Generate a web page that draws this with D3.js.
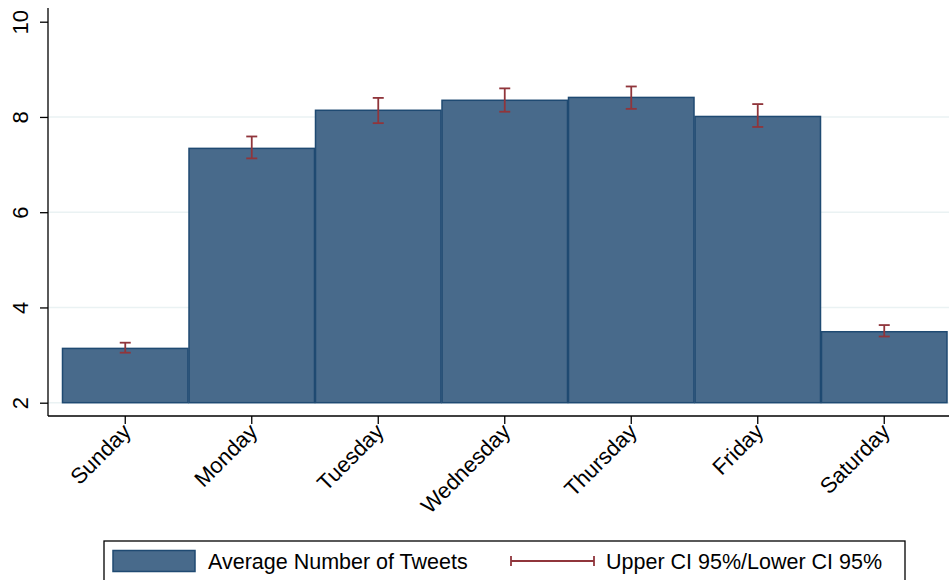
<!DOCTYPE html>
<html>
<head>
<meta charset="utf-8">
<script src="https://cdn.jsdelivr.net/npm/d3@7"></script>
<style>
  body { margin: 0; background: #fff; }
  text { font-family: "Liberation Sans", Arial, sans-serif; fill: #000; }
</style>
</head>
<body>
<div id="chart"></div>
<script>
// data
var days = ["Sunday", "Monday", "Tuesday", "Wednesday", "Thursday", "Friday", "Saturday"];
var avgTweets = [3.14, 7.34, 8.14, 8.35, 8.41, 8.01, 3.49];
var ciUpper = [3.26, 7.59, 8.40, 8.60, 8.64, 8.27, 3.63];
var ciLower = [3.05, 7.13, 7.87, 8.11, 8.17, 7.79, 3.39];
var yTicks = [2, 4, 6, 8, 10];

var width = 949, height = 580;

var svg = d3.select("#chart").append("svg")
    .attr("width", width)
    .attr("height", height);

var x = d3.scaleBand()
    .domain(days)
    .range([62, 947.5])
    .padding(0);

var y = d3.scaleLinear()
    .domain([2, 10])
    .range([402.7, 21.7]);

var axisLeftX = 48, axisBottomY = 416;

// gridlines
svg.append("g").selectAll("line")
    .data(yTicks.filter(function(d) { return d < 10; }))
    .enter().append("line")
    .attr("x1", axisLeftX).attr("x2", width)
    .attr("y1", function(d) { return y(d); })
    .attr("y2", function(d) { return y(d); })
    .style("stroke", "#eaf2f3")
    .style("stroke-width", 1.5);

// bars
svg.append("g").selectAll("rect")
    .data(days)
    .enter().append("rect")
    .attr("x", function(d) { return x(d) + 0.5; })
    .attr("width", x.bandwidth() - 1)
    .attr("y", function(d, i) { return y(avgTweets[i]); })
    .attr("height", function(d, i) { return y(2) - y(avgTweets[i]); })
    .style("fill", "#486a8b")
    .style("stroke", "#1f4a72")
    .style("stroke-width", 1.5);

// error bars
var capW = 11;
var eb = svg.append("g").selectAll("g")
    .data(days)
    .enter().append("g")
    .attr("transform", function(d) { return "translate(" + (x(d) + x.bandwidth() / 2) + ",0)"; })
    .style("stroke", "#90353b")
    .style("stroke-width", 1.8);
eb.append("line")
    .attr("y1", function(d, i) { return y(ciUpper[i]); })
    .attr("y2", function(d, i) { return y(ciLower[i]); });
eb.append("line")
    .attr("x1", -capW / 2).attr("x2", capW / 2)
    .attr("y1", function(d, i) { return y(ciUpper[i]); })
    .attr("y2", function(d, i) { return y(ciUpper[i]); });
eb.append("line")
    .attr("x1", -capW / 2).attr("x2", capW / 2)
    .attr("y1", function(d, i) { return y(ciLower[i]); })
    .attr("y2", function(d, i) { return y(ciLower[i]); });

// y axis
var yAxis = svg.append("g")
    .attr("transform", "translate(" + axisLeftX + ",0)")
    .call(d3.axisLeft(y).tickValues(yTicks).tickSize(8).tickSizeOuter(0));
yAxis.select(".domain").remove();
yAxis.append("line")
    .attr("x1", 0).attr("x2", 0).attr("y1", 8).attr("y2", axisBottomY)
    .style("stroke", "#000").style("stroke-width", 1.3);
yAxis.selectAll(".tick line").style("stroke", "#000").style("stroke-width", 1.3);
yAxis.selectAll(".tick text")
    .style("font-size", "22px")
    .attr("x", 0).attr("y", 0).attr("dy", 0)
    .attr("text-anchor", "middle")
    .attr("transform", "translate(-20,0) rotate(-90)");

// x axis
var xAxis = svg.append("g")
    .attr("transform", "translate(0," + axisBottomY + ")")
    .call(d3.axisBottom(x).tickSize(8).tickSizeOuter(0));
xAxis.select(".domain").remove();
xAxis.append("line")
    .attr("x1", axisLeftX).attr("x2", width).attr("y1", 0).attr("y2", 0)
    .style("stroke", "#000").style("stroke-width", 1.3);
xAxis.selectAll(".tick line").style("stroke", "#000").style("stroke-width", 1.3);
xAxis.selectAll(".tick text")
    .style("font-size", "22px")
    .attr("text-anchor", "end")
    .attr("y", 0).attr("dy", 0)
    .attr("transform", "translate(7,17) rotate(-45)");

// legend
var lg = svg.append("g");
lg.append("rect")
    .attr("x", 104).attr("y", 541).attr("width", 801).attr("height", 45)
    .style("fill", "#fff").style("stroke", "#000").style("stroke-width", 1.3);
lg.append("rect")
    .attr("x", 113).attr("y", 550.5).attr("width", 82).attr("height", 21)
    .style("fill", "#486a8b").style("stroke", "#1f4a72").style("stroke-width", 1.5);
lg.append("text").attr("x", 208).attr("y", 569)
    .style("font-size", "21.5px").text("Average Number of Tweets");
var ll = lg.append("g").style("stroke", "#90353b").style("stroke-width", 1.8);
ll.append("line").attr("x1", 511).attr("x2", 594).attr("y1", 561).attr("y2", 561);
ll.append("line").attr("x1", 511).attr("x2", 511).attr("y1", 556).attr("y2", 566);
ll.append("line").attr("x1", 594).attr("x2", 594).attr("y1", 556).attr("y2", 566);
lg.append("text").attr("x", 606).attr("y", 569)
    .style("font-size", "21.5px").text("Upper CI 95%/Lower CI 95%");
</script>
</body>
</html>
